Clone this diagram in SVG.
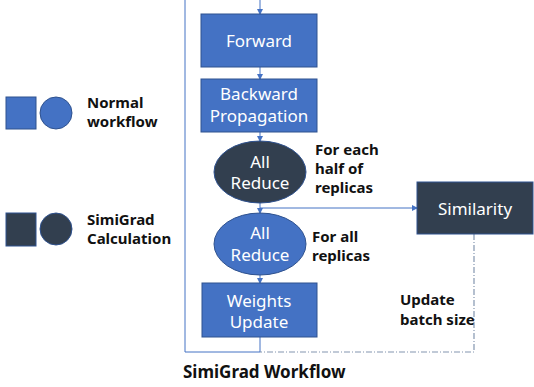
<svg xmlns="http://www.w3.org/2000/svg" width="534" height="387" viewBox="0 0 534 387">
<style>
.blue{fill:#4472C4;stroke:#2F528F;stroke-width:1}
.dark{fill:#323F4F;stroke:#2F528F;stroke-width:1}
.wt{font-family:"Noto Sans","Open Sans",sans-serif;font-size:17px;fill:#fff;text-anchor:middle}
.lb{font-family:"Noto Sans","Open Sans",sans-serif;font-size:15px;font-weight:bold;fill:#111}
.ln{stroke:#4472C4;stroke-width:1;fill:none}
.dd{stroke:#8496B0;stroke-width:1.2;fill:none;stroke-dasharray:6 2 1 2}
</style>
<defs>
<marker id="ah" markerWidth="6" markerHeight="6" refX="5" refY="3" orient="auto" markerUnits="userSpaceOnUse">
<path d="M0,0 L6,3 L0,6 Z" fill="#4472C4"/>
</marker>
</defs>
<g id="connectors">
<path class="ln" d="M260,0 V14" marker-end="url(#ah)"/>
<path class="ln" d="M260,67 V79" marker-end="url(#ah)"/>
<path class="ln" d="M260,132 V141" marker-end="url(#ah)"/>
<path class="ln" d="M260,203 V213" marker-end="url(#ah)"/>
<path class="ln" d="M260,208 H417" marker-end="url(#ah)"/>
<path class="ln" d="M260,275 V283" marker-end="url(#ah)"/>
<path class="ln" d="M260,337 V352 H185 V0"/>
<path class="dd" d="M474,234 V352 H260"/>
</g>
<g id="forward">
<rect class="blue" x="201" y="14" width="116" height="53"/>
<text class="wt" x="259" y="47">Forward</text>
</g>
<g id="backward">
<rect class="blue" x="201" y="79" width="116" height="53"/>
<text class="wt" x="259" y="100">Backward</text>
<text class="wt" x="259" y="122">Propagation</text>
</g>
<g id="allreduce1">
<ellipse class="dark" cx="260" cy="172" rx="46" ry="31"/>
<text class="wt" x="260" y="168">All</text>
<text class="wt" x="260" y="189">Reduce</text>
</g>
<g id="allreduce2">
<ellipse class="blue" cx="260" cy="244" rx="46" ry="31"/>
<text class="wt" x="260" y="239">All</text>
<text class="wt" x="260" y="261">Reduce</text>
</g>
<g id="weights">
<rect class="blue" x="202" y="283" width="115" height="54"/>
<text class="wt" x="259" y="307">Weights</text>
<text class="wt" x="259" y="328">Update</text>
</g>
<g id="similarity">
<rect class="dark" x="417" y="182" width="116" height="52"/>
<text class="wt" x="475" y="215">Similarity</text>
</g>
<g id="labels">
<text class="lb" x="315" y="155">For each</text>
<text class="lb" x="315" y="174">half of</text>
<text class="lb" x="315" y="193">replicas</text>
<text class="lb" x="312" y="242">For all</text>
<text class="lb" x="312" y="261">replicas</text>
<text class="lb" x="400" y="305">Update</text>
<text class="lb" x="400" y="325">batch size</text>
<text class="lb" x="183" y="378" style="font-size:17px">SimiGrad Workflow</text>
</g>
<g id="legend-normal">
<rect class="blue" x="6" y="97" width="30" height="32"/>
<circle class="blue" cx="56" cy="113" r="16"/>
<text class="lb" x="87" y="108">Normal</text>
<text class="lb" x="87" y="127">workflow</text>
</g>
<g id="legend-simigrad">
<rect class="dark" x="6" y="213" width="30" height="33"/>
<circle class="dark" cx="56" cy="229" r="16"/>
<text class="lb" x="87" y="225">SimiGrad</text>
<text class="lb" x="87" y="244">Calculation</text>
</g>
</svg>
